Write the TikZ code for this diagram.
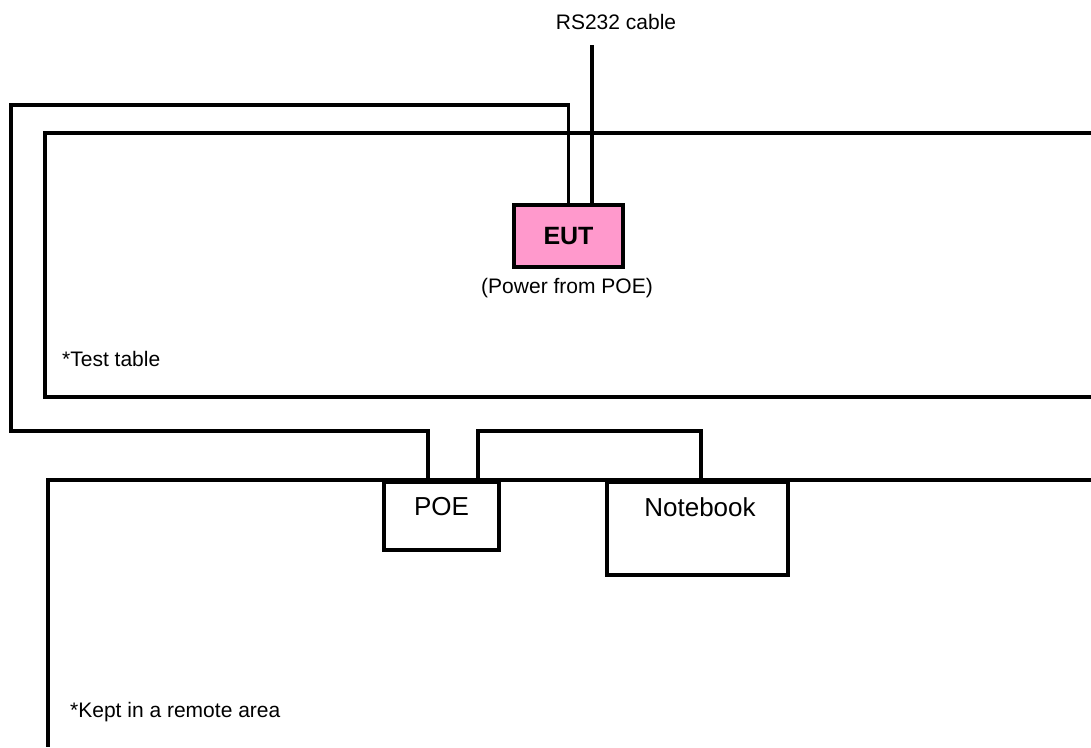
\documentclass[tikz,border=0pt]{standalone}
\usepackage{fontspec}
\setmainfont{Liberation Sans}
\definecolor{eutpink}{HTML}{FF99CC}
\tikzset{
  wire/.style={line width=3.5pt, line join=miter},
  devbox/.style={draw, line width=3.5pt, inner sep=0pt},
  txt/.style={inner sep=0pt, font=\fontsize{21}{25}\selectfont},
  devtxt/.style={inner sep=0pt, font=\fontsize{26}{31}\selectfont},
}
\begin{document}
\begin{tikzpicture}[x=1pt, y=-1pt]
  % test table and remote area, open towards the page edge
  \draw[wire] (1091,133) -- (45,133) -- (45,397) -- (1091,397);
  \draw[wire] (1091,480) -- (48,480) -- (48,747);

  % units
  \node[devbox, fill=eutpink, minimum width=109pt, minimum height=62pt,
        font=\bfseries\fontsize{25}{30}\selectfont] (eut) at (568.5,236) {EUT};
  \node[devbox, anchor=north, minimum width=115pt, minimum height=68pt] (poe) at (441.5,480) {};
  \node[devbox, anchor=north, minimum width=181pt, minimum height=93pt] (nb) at (697.5,480) {};

  % cables
  \coordinate (rsend) at (592,45);
  \draw[wire] (rsend) -- (rsend |- eut.north);
  \draw[wire] (eut.north) |- (11,105) |- (428,431) -- ([xshift=-13.5pt]poe.north);
  \draw[wire] ([xshift=36.5pt]poe.north) |- (701,431) -- ([xshift=3.5pt]nb.north);

  % labels
  \node[txt] (rslbl) at (616,22) {RS232 cable};
  \node[txt] (pwrlbl) at (567,288) {(Power from POE)};
  \node[devtxt] (poelbl) at (441.5,507) {POE};
  \node[devtxt] (nblbl) at (700,507) {Notebook};
  \node[txt, anchor=base west] (tbllbl) at (62,366) {*Test table};
  \node[txt, anchor=base west] (rmtlbl) at (70,717) {*Kept in a remote area};

  \pgfresetboundingbox
  \path[use as bounding box] (0,0) rectangle (1091,747);
\end{tikzpicture}
\end{document}
